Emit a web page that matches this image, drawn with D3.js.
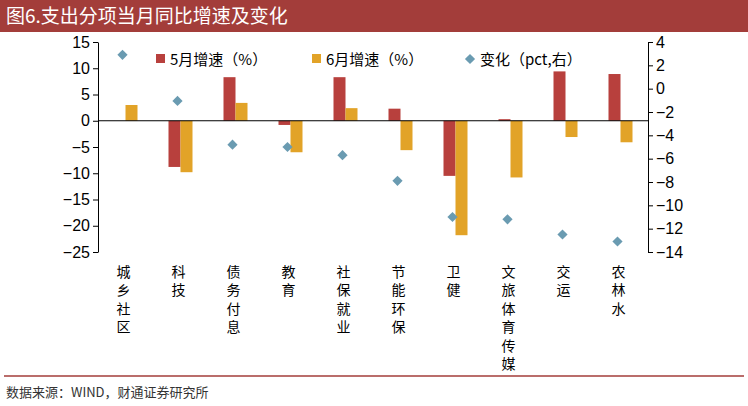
<!DOCTYPE html><html><head><meta charset="utf-8"><script src="https://cdn.jsdelivr.net/npm/d3@7"></script>
<style>body{margin:0;background:#fff}text{font-family:"Noto Sans CJK SC",Arial,sans-serif}</style></head><body>
<svg id="c" width="748" height="406"></svg>
<script>
const categories=["城乡社区","科技","债务付息","教育","社保就业","节能环保","卫健","文旅体育传媒","交运","农林水"];
const may=[0,-8.8,8.3,-0.8,8.3,2.3,-10.5,0.3,9.4,8.9];
const june=[3.0,-9.8,3.4,-6.0,2.4,-5.6,-21.8,-10.8,-3.1,-4.1];
const change=[2.9,-1.05,-4.8,-5.0,-5.7,-7.9,-11.0,-11.2,-12.5,-13.1];
const leftTicks=[15,10,5,0,-5,-10,-15,-20,-25];
const rightTicks=[4,2,0,-2,-4,-6,-8,-10,-12,-14];
const svg=d3.select("#c");
svg.append("rect").attr("x",0).attr("y",0).attr("width",748).attr("height",32).attr("fill","#A33D3A");
svg.append("text").attr("x",6).attr("y",23).attr("fill","#fff").attr("font-size",19).text("图6.支出分项当月同比增速及变化");
const L=98,R=648,T=42,B=252;
const x=d3.scaleBand().domain(categories).range([L,R]);
const y=d3.scaleLinear().domain([-25,15]).range([B,T]);
const y2=d3.scaleLinear().domain([-14,4]).range([B,T]);
const bw=12;
svg.selectAll(".m").data(categories).join("rect").attr("x",d=>x(d)+x.bandwidth()/2-bw).attr("width",bw)
 .attr("y",(d,i)=>y(Math.max(0,may[i]))).attr("height",(d,i)=>Math.abs(y(may[i])-y(0))).attr("fill","#B8403D");
svg.selectAll(".j").data(categories).join("rect").attr("x",d=>x(d)+x.bandwidth()/2).attr("width",bw)
 .attr("y",(d,i)=>y(Math.max(0,june[i]))).attr("height",(d,i)=>Math.abs(y(june[i])-y(0))).attr("fill","#E2A328");
svg.selectAll(".c").data(categories).join("path").attr("d",d3.symbol(d3.symbolSquare,52)())
 .attr("transform",(d,i)=>`translate(${x(d)+x.bandwidth()/2-3},${y2(change[i])}) rotate(45)`).attr("fill","#6A9BB1");
const ga=svg.append("g").attr("transform",`translate(${L},0)`).call(d3.axisLeft(y).tickValues(leftTicks).tickSize(5).tickSizeOuter(0));
const gb=svg.append("g").attr("transform",`translate(${R},0)`).call(d3.axisRight(y2).tickValues(rightTicks).tickSize(5).tickSizeOuter(0));
[ga,gb].forEach(g=>{g.selectAll("text").attr("font-size",16).attr("fill","#000").style("font-family","Arial, Liberation Sans");g.selectAll("line,path").attr("stroke","#000");});
svg.append("line").attr("x1",L).attr("x2",R).attr("y1",y(0)).attr("y2",y(0)).attr("stroke","#000");
categories.forEach(c=>{const t=svg.append("text").attr("font-size",14).attr("text-anchor","middle");
 [...c].forEach((ch,k)=>t.append("tspan").attr("x",x(c)+x.bandwidth()/2-2).attr("y",y(0)+156+k*18.5).text(ch));});
const lg=[["5月增速（%）","#B8403D","r",156],["6月增速（%）","#E2A328","r",312],["变化（pct,右）","#6A9BB1","d",466]];
lg.forEach(([t,c,s,lx])=>{ if(s==="r") svg.append("rect").attr("x",lx).attr("y",54).attr("width",9).attr("height",9).attr("fill",c);
 else svg.append("path").attr("d",d3.symbol(d3.symbolSquare,52)()).attr("transform",`translate(${lx+4},59) rotate(45)`).attr("fill",c);
 svg.append("text").attr("x",lx+14).attr("y",65).attr("font-size",15).text(t);});
svg.append("line").attr("x1",4).attr("x2",744).attr("y1",376).attr("y2",376).attr("stroke","#A33D3A").attr("stroke-width",1.5);
svg.append("text").attr("x",6).attr("y",397).attr("font-size",13).attr("fill","#333").text("数据来源：WIND，财通证券研究所");
</script></body></html>
